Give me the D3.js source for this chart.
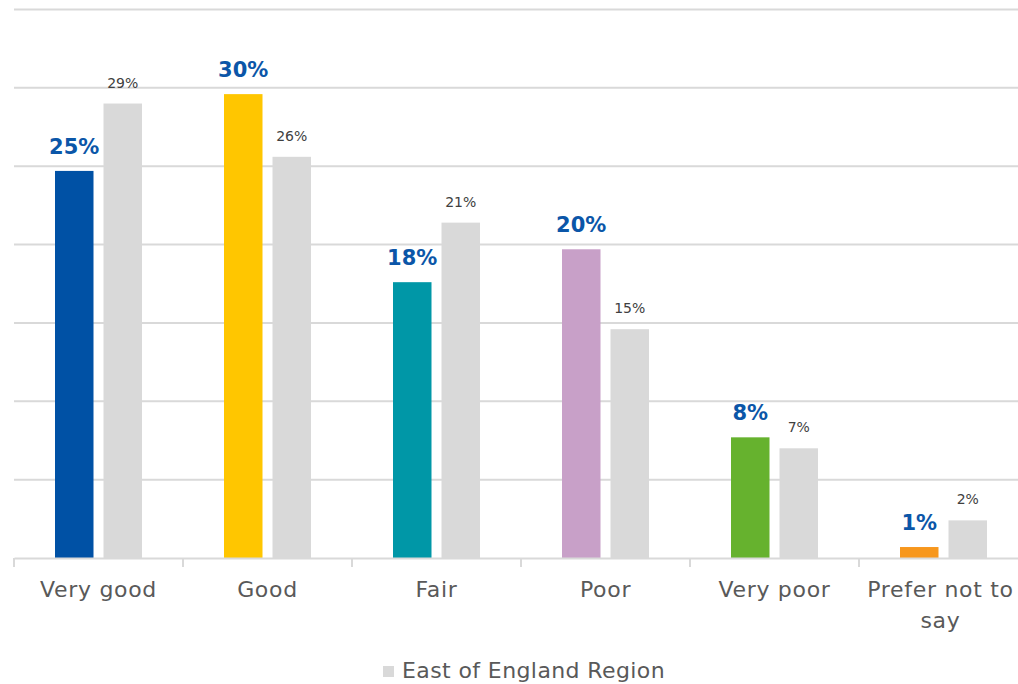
<!DOCTYPE html>
<html>
<head>
<meta charset="utf-8">
<script src="https://cdn.jsdelivr.net/npm/d3@7"></script>
<style>
  body { margin: 0; background: #fff; }
  svg { display: block; font-family: "DejaVu Sans", sans-serif; }
</style>
</head>
<body>
<div id="chart"></div>
<script>
var width = 1018, height = 684;

// categories and values (percent)
var categories = ["Very good", "Good", "Fair", "Poor", "Very poor", "Prefer not to say"];
var catLines = [["Very good"], ["Good"], ["Fair"], ["Poor"], ["Very poor"], ["Prefer not to", "say"]];
var sampleValues = [24.7, 29.6, 17.6, 19.7, 7.7, 0.7];
var regionValues = [29.0, 25.6, 21.4, 14.6, 7.0, 2.4];
var sampleColors = ["#0051a5", "#ffc600", "#0097a7", "#c8a0c8", "#66b22e", "#f7971d"];
var regionName = "East of England Region";
var yTicks = [0, 5, 10, 15, 20, 25, 30, 35];

var svg = d3.select("#chart").append("svg")
  .attr("width", width).attr("height", height);

var x = d3.scaleBand().domain(categories).range([14, 1028]);
var y = d3.scaleLinear().domain([0, 35]).range([558, 9.5]);

var barW = 38.5, gap = 10;
var off = (x.bandwidth() - 2 * barW - gap) / 2;

// gridlines
svg.append("g").selectAll("line")
  .data(yTicks.slice(1))
  .enter().append("line")
  .attr("x1", 14).attr("x2", width)
  .attr("y1", d => y(d)).attr("y2", d => y(d))
  .style("stroke", "#d9d9d9").style("stroke-width", 2);

// bars
var bars = svg.append("g");
bars.selectAll("rect.s")
  .data(categories)
  .enter().append("rect")
  .attr("x", d => x(d) + off)
  .attr("y", (d, i) => y(sampleValues[i]))
  .attr("width", barW)
  .attr("height", (d, i) => y(0) - y(sampleValues[i]))
  .attr("fill", (d, i) => sampleColors[i]);

bars.selectAll("rect.r")
  .data(categories)
  .enter().append("rect")
  .attr("x", d => x(d) + off + barW + gap)
  .attr("y", (d, i) => y(regionValues[i]))
  .attr("width", barW)
  .attr("height", (d, i) => y(0) - y(regionValues[i]))
  .attr("fill", "#d9d9d9");

// x axis
var xAxis = d3.axisBottom(x).tickSize(0).tickFormat("");
var ax = svg.append("g").attr("transform", "translate(0," + y(0) + ")").call(xAxis);
ax.select(".domain").style("stroke", "#d9d9d9").style("stroke-width", 2);
ax.selectAll(".tick").remove();

// tick marks at band edges
var edges = categories.map(d => x(d)).concat([x.range()[1]]);
svg.append("g").selectAll("line")
  .data(edges)
  .enter().append("line")
  .attr("x1", d => d).attr("x2", d => d)
  .attr("y1", y(0)).attr("y2", y(0) + 9)
  .style("stroke", "#d9d9d9").style("stroke-width", 2);

// category labels
svg.append("g").selectAll("text")
  .data(categories)
  .enter().append("text")
  .attr("x", d => x(d) + x.bandwidth() / 2)
  .attr("y", 597)
  .attr("text-anchor", "middle")
  .style("font-size", "22px")
  .style("letter-spacing", "0.7px")
  .style("fill", "#595959")
  .each(function(d, i) {
    var t = d3.select(this);
    var cx = x(d) + x.bandwidth() / 2 - (i == categories.length - 1 ? 3 : 0);
    catLines[i].forEach((l, j) => {
      t.append("tspan").attr("x", cx).attr("dy", j ? 31 : 0).text(l);
    });
  });

// value labels
svg.append("g").selectAll("text")
  .data(categories)
  .enter().append("text")
  .attr("x", d => x(d) + off + barW / 2)
  .attr("y", (d, i) => y(sampleValues[i]) - 17)
  .attr("text-anchor", "middle")
  .style("font-size", "21px")
  .style("font-weight", "bold")
  .style("fill", "#0b56a8")
  .text((d, i) => Math.round(sampleValues[i]) + "%");

svg.append("g").selectAll("text")
  .data(categories)
  .enter().append("text")
  .attr("x", d => x(d) + off + barW * 1.5 + gap)
  .attr("y", (d, i) => y(regionValues[i]) - 16)
  .attr("text-anchor", "middle")
  .style("font-size", "14px")
  .style("fill", "#404040")
  .text((d, i) => Math.round(regionValues[i]) + "%");

// legend
var lg = svg.append("g").attr("transform", "translate(383,666)");
lg.append("rect").attr("width", 11).attr("height", 11).attr("fill", "#d9d9d9");
lg.append("text").attr("x", 19).attr("y", 12)
  .style("font-size", "22px").style("letter-spacing", "0.4px").style("fill", "#595959")
  .text(regionName);
</script>
</body>
</html>
